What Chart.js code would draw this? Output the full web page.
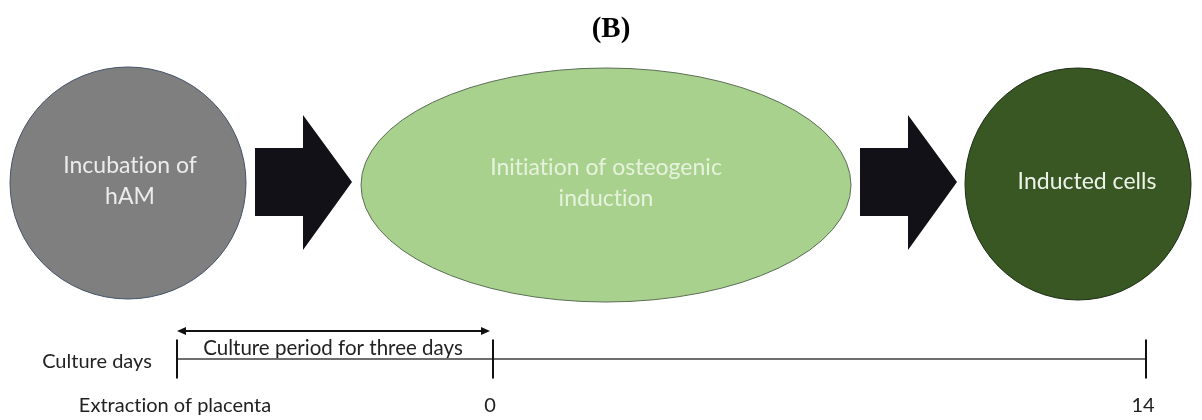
<!DOCTYPE html>
<html>
<head>
<meta charset="utf-8">
<script src="https://cdn.jsdelivr.net/npm/chart.js"></script>
<style>
    html, body { margin: 0; padding: 0; background: #fff; }
    #wrap { width: 1202px; height: 420px; }
</style>
</head>
<body>
<div id="wrap"><canvas id="diagram" width="1202" height="420"></canvas></div>
<script>
// 圖表數據
const titleText = '(B)';
const stageLabels = [['Incubation of', 'hAM'], ['Initiation of osteogenic', 'induction'], ['Inducted cells']];
const timelineDays = [-3, 0, 14];
const timelineTickLabels = ['Extraction of placenta', '0', '14'];
const rowLabel = 'Culture days';
const periodLabel = 'Culture period for three days';

// 版面 (畫布單位)
const stageX = [128, 606, 1078];
const stageY = [183, 185, 184];
const stageRx = [118, 245, 113];
const stageRy = [116, 117, 116];
const stageFill = ['#7f7f7f', '#a9d18e', '#385723'];
const stageStroke = ['#44546a', '#5b6e55', '#1e2e14'];
const stageTextColor = ['#ececec', '#e6f2dc', '#eef3ea'];
const stageTextX = [130, 606, 1087];
const stageTextY = [166, 168, 182];
const arrowX = [255, 860];
const timelineX = [177, 493, 1146];
const lineY = 359;
const periodY = 331;

const fontFamily = 'Lato, "Open Sans", sans-serif';

const diagramPlugin = {
    id: 'diagram',
    beforeDatasetsDraw(chart) {
        const ctx = chart.ctx;
        const xs = chart.scales.x;
        const ys = chart.scales.y;
        const px = v => xs.getPixelForValue(v);
        const py = v => ys.getPixelForValue(v);

        ctx.save();
        // 關閉連字 (Lato 的 "ti")
        ctx.letterSpacing = '0.01px';
        // 標題
        ctx.fillStyle = '#000';
        ctx.font = 'bold 29px "Liberation Serif", "Times New Roman", serif';
        ctx.textAlign = 'center';
        ctx.textBaseline = 'middle';
        ctx.fillText(titleText, px(611), py(30));

        // 橢圓
        stageLabels.forEach((lines, i) => {
            ctx.beginPath();
            ctx.ellipse(px(stageX[i]), py(stageY[i]), px(stageRx[i]) - px(0), py(stageRy[i]) - py(0), 0, 0, Math.PI * 2);
            ctx.fillStyle = stageFill[i];
            ctx.fill();
            ctx.lineWidth = 1;
            ctx.strokeStyle = stageStroke[i];
            ctx.stroke();

            ctx.fillStyle = stageTextColor[i];
            ctx.font = '23px ' + fontFamily;
            lines.forEach((line, j) => {
                ctx.fillText(line, px(stageTextX[i]), py(stageTextY[i] + j * 31));
            });
        });

        // 箭頭
        arrowX.forEach(x0 => {
            ctx.beginPath();
            ctx.moveTo(px(x0), py(148));
            ctx.lineTo(px(x0 + 48), py(148));
            ctx.lineTo(px(x0 + 48), py(115));
            ctx.lineTo(px(x0 + 97), py(182));
            ctx.lineTo(px(x0 + 48), py(250));
            ctx.lineTo(px(x0 + 48), py(216));
            ctx.lineTo(px(x0), py(216));
            ctx.closePath();
            ctx.fillStyle = '#111117';
            ctx.fill();
        });

        // 時間軸文字
        ctx.fillStyle = '#222';
        ctx.font = '20px ' + fontFamily;
        ctx.fillText(rowLabel, px(97), py(362));
        timelineTickLabels.forEach((label, i) => {
            const x = i === 0 ? 175 : timelineX[i] - 3;
            ctx.fillText(label, px(x), py(406));
        });
        ctx.font = '20.5px ' + fontFamily;
        ctx.fillText(periodLabel, px(333), py(348));

        // 雙向箭頭頭部
        const aL = px(timelineX[0]);
        const aR = px(timelineX[1] - 3);
        const ay = py(periodY);
        ctx.beginPath();
        ctx.moveTo(aL, ay);
        ctx.lineTo(aL + 9, ay - 4);
        ctx.lineTo(aL + 9, ay + 4);
        ctx.closePath();
        ctx.moveTo(aR, ay);
        ctx.lineTo(aR - 9, ay - 4);
        ctx.lineTo(aR - 9, ay + 4);
        ctx.closePath();
        ctx.fillStyle = '#111';
        ctx.fill();
        ctx.restore();
    }
};

new Chart(document.getElementById('diagram').getContext('2d'), {
    type: 'scatter',
    data: {
        datasets: [
            {
                // 時間軸
                type: 'line',
                data: timelineDays.map((d, i) => ({ x: timelineX[i], y: lineY })),
                borderColor: '#6e6e6e',
                borderWidth: 2,
                pointStyle: 'line',
                rotation: 90,
                pointRadius: 19.5,
                pointBorderColor: '#111',
                pointBorderWidth: 2,
                clip: false
            },
            {
                // 培養期間
                type: 'line',
                data: [{ x: timelineX[0] + 4, y: periodY }, { x: timelineX[1] - 7, y: periodY }],
                borderColor: '#111',
                borderWidth: 2,
                pointRadius: 0,
                clip: false
            }
        ]
    },
    options: {
        responsive: false,
        animation: false,
        events: [],
        layout: { padding: 0, autoPadding: false },
        scales: {
            x: { type: 'linear', min: 0, max: 1202, display: false },
            y: { type: 'linear', min: 0, max: 420, reverse: true, display: false }
        },
        plugins: {
            legend: { display: false },
            tooltip: { enabled: false }
        }
    },
    plugins: [diagramPlugin]
});
</script>
</body>
</html>
